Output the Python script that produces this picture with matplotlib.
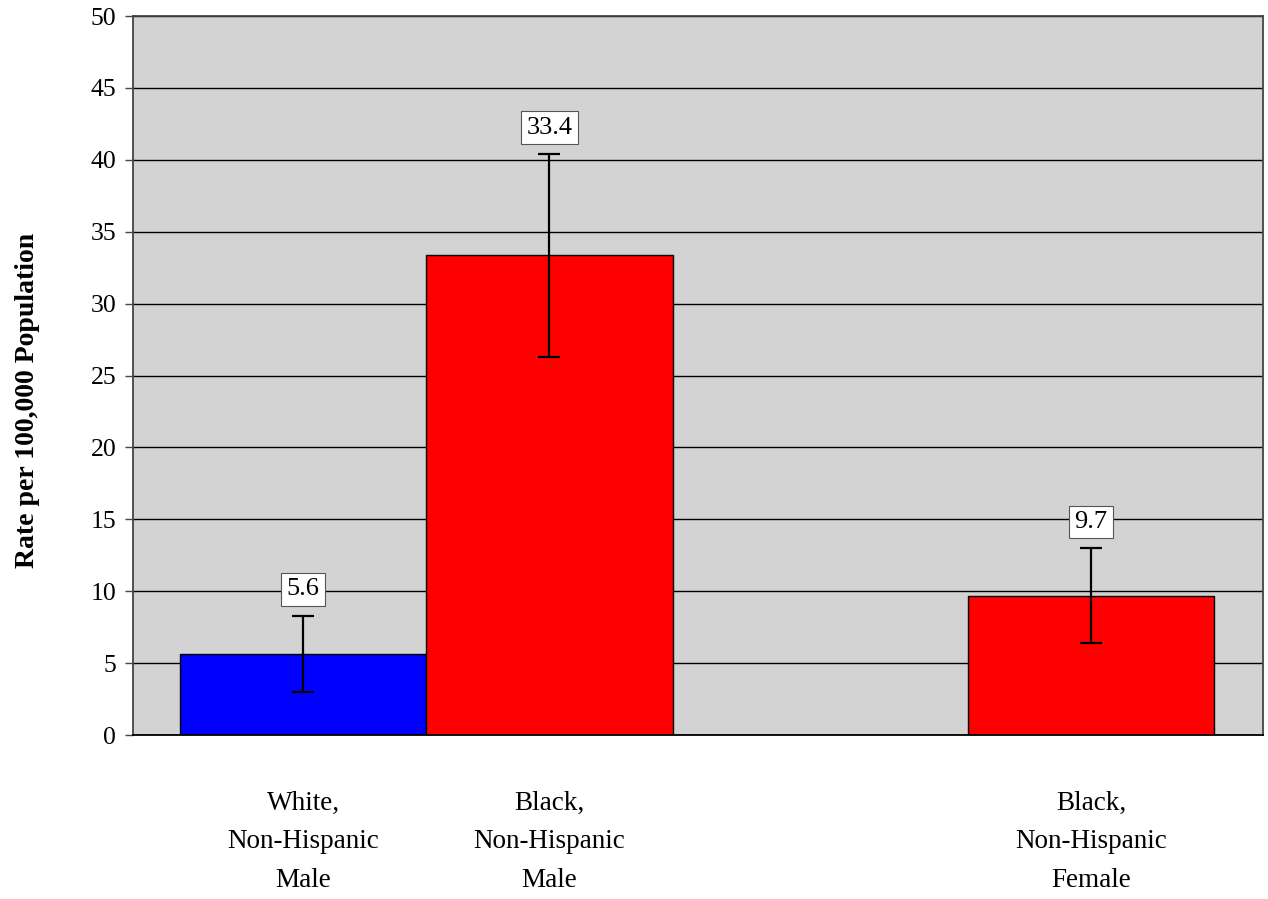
import matplotlib
matplotlib.use("Agg")
import matplotlib.pyplot as plt
import numpy as np

# data
labels = ["White,\nNon-Hispanic\nMale", "Black,\nNon-Hispanic\nMale", "Black,\nNon-Hispanic\nFemale"]
rates = [5.6, 33.4, 9.7]
lower = [3.0, 26.3, 6.4]
upper = [8.3, 40.4, 13.0]
colors = ["#0000ff", "#ff0000", "#ff0000"]
positions = [0, 1, 3.2]

plt.rcParams["font.family"] = ["Liberation Serif", "DejaVu Serif"]

fig = plt.figure(figsize=(12.68, 8.99), dpi=100)
ax = fig.add_axes([0.1049, 0.1824, 0.9961 - 0.1049, 0.9822 - 0.1824])
ax.set_facecolor("#d3d3d3")

rates_a = np.array(rates)
yerr = np.array([rates_a - np.array(lower), np.array(upper) - rates_a])

ax.bar(positions, rates, width=1.0, color=colors, edgecolor="black",
       linewidth=1.0, zorder=2)
ax.errorbar(positions, rates, yerr=yerr, fmt="none", ecolor="black",
            elinewidth=1.6, capsize=8, capthick=1.6, zorder=3)

for x, v, up in zip(positions, rates, upper):
    ax.annotate(f"{v}", xy=(x, up), xytext=(0, 11), textcoords="offset points",
                ha="center", va="bottom", fontsize=19,
                bbox=dict(boxstyle="square,pad=0.2", fc="white", ec="#555555", lw=0.8),
                zorder=4)

ax.set_ylim(0, 50)
ax.set_yticks(np.arange(0, 51, 5))
ax.set_xlim(-0.691, 3.898)
ax.set_xticks(positions)
ax.set_xticklabels(labels, fontsize=19.5, linespacing=1.72)
ax.tick_params(axis="x", length=0, pad=40)
ax.tick_params(axis="y", labelsize=18.5, length=6, width=1, color="#444444", pad=6)

ax.yaxis.grid(True, color="black", linewidth=1.0, zorder=1)
ax.set_axisbelow(True)

for side in ["left", "top", "right"]:
    ax.spines[side].set_color("#444444")
    ax.spines[side].set_linewidth(1.3)
ax.spines["bottom"].set_color("black")
ax.spines["bottom"].set_linewidth(1.3)

ax.set_ylabel("Rate per 100,000 Population", fontsize=20, fontweight="bold")
ax.yaxis.set_label_coords(-0.082, 0.465)

fig.savefig("out.png", dpi=100)
